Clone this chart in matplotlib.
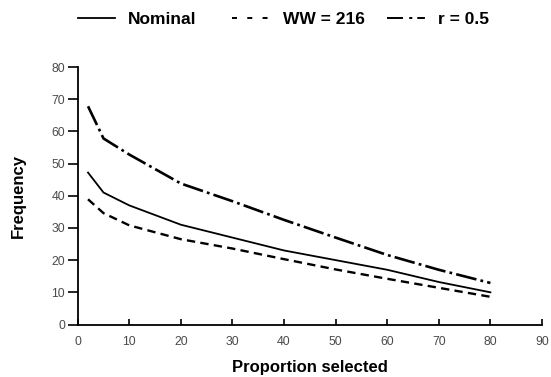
import matplotlib
matplotlib.use("Agg")
import matplotlib.pyplot as plt
from matplotlib.lines import Line2D

plt.rcParams['font.family'] = ['Liberation Sans', 'DejaVu Sans']
plt.rcParams['lines.scale_dashes'] = False

x = [2, 5, 10, 20, 30, 40, 50, 60, 70, 80]
nominal = [47.2, 41.0, 37.0, 31.0, 27.0, 23.0, 20.0, 17.0, 13.2, 10.0]
ww216 = [38.9, 34.6, 30.8, 26.5, 23.6, 20.3, 17.1, 14.2, 11.4, 8.6]
r05 = [67.8, 57.8, 52.8, 43.8, 38.3, 32.5, 27.0, 21.6, 17.0, 12.9]

series_labels = ['Nominal', 'WW = 216', 'r = 0.5']
xticks = [0, 10, 20, 30, 40, 50, 60, 70, 80, 90]
yticks = [0, 10, 20, 30, 40, 50, 60, 70, 80]

W, H = 551, 377
fig = plt.figure(figsize=(W / 100, H / 100), dpi=100)
L, R, T, B = 77.7, 542, 67, 324.5
ax = fig.add_axes([L / W, 1 - B / H, (R - L) / W, (B - T) / H])

styles = [
    dict(lw=1.3, ls='-'),
    dict(lw=1.7, ls=(0, (6, 3.8))),
    dict(lw=1.9, ls=(0, (15, 3, 2, 3))),
]
legend_styles = [
    dict(lw=1.3, ls='-'),
    dict(lw=1.4, ls=(0, (3.6, 7.4))),
    dict(lw=1.4, ls=(0, (11.5, 4.5, 2.2, 3.6, 5.5, 2))),
]
for y, lab, st in zip([nominal, ww216, r05], series_labels, styles):
    ax.plot(x, y, color='black', label=lab, **st)

ax.set_xlim(0, 90)
ax.set_ylim(0, 80)
ax.set_xticks(xticks)
ax.set_yticks(yticks)
ax.tick_params(width=1.2, labelsize=8.8, labelcolor='#4a4a4a', colors='black')
ax.tick_params(axis='x', direction='in', length=4.5, pad=8)
ax.tick_params(axis='y', direction='out', length=7, pad=2.2)
for s in ['top', 'right']:
    ax.spines[s].set_visible(False)
for s in ['left', 'bottom']:
    ax.spines[s].set_linewidth(1.3)

ax.set_xlabel('Proportion selected', fontsize=12, fontweight='bold', va='top')
ax.xaxis.set_label_coords(0.5, (B - 360) / (B - T))
ax.set_ylabel('Frequency', fontsize=12, fontweight='bold', va='center')
ax.yaxis.set_label_coords((18.5 - L) / (R - L), 0.5)

# legend row (Excel-style, fixed slots)
leg_y = 1 - 18 / H
txt_y = 1 - 24.3 / H
handle_x = [(78, 115), (232, 268), (387, 427)]
text_x = [128, 283, 438]
for (x0, x1), tx, lab, st in zip(handle_x, text_x, series_labels, legend_styles):
    fig.add_artist(Line2D([x0 / W, x1 / W], [leg_y, leg_y], color='black',
                          transform=fig.transFigure, **st))
    fig.text(tx / W, txt_y, lab, fontsize=12.5, fontweight='bold', va='baseline', ha='left')

fig.savefig('out.png', dpi=100)
